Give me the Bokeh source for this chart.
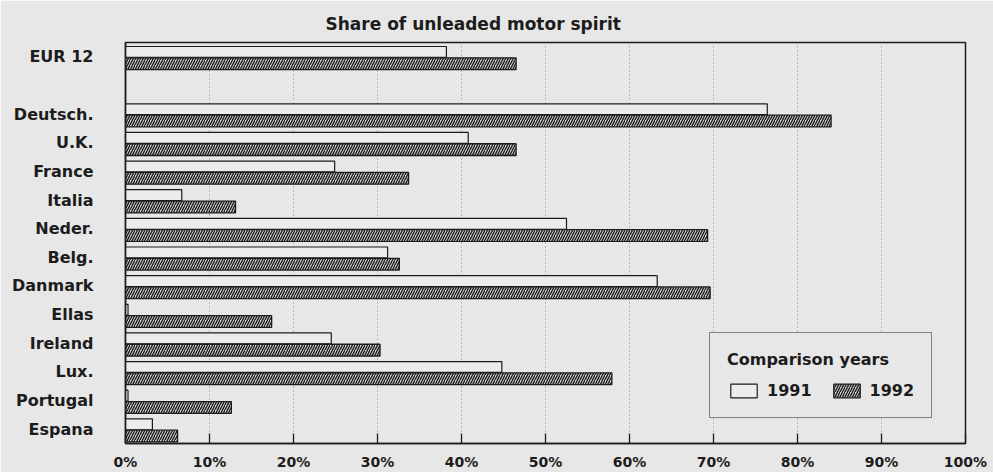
from bokeh.plotting import figure
from bokeh.models import Legend, LegendItem, FactorRange, Range1d, FixedTicker, ColumnDataSource
from bokeh.transform import dodge
from bokeh.embed import file_html
from bokeh.resources import INLINE

countries = ["EUR 12", " ", "Deutsch.", "U.K.", "France", "Italia", "Neder.", "Belg.",
             "Danmark", "Ellas", "Ireland", "Lux.", "Portugal", "Espana"]
share_1991 = [38.2, float("nan"), 76.4, 40.8, 24.9, 6.7, 52.5, 31.2, 63.3, 0.3, 24.5, 44.8, 0.3, 3.2]
share_1992 = [46.5, float("nan"), 84.0, 46.5, 33.7, 13.1, 69.3, 32.6, 69.6, 17.4, 30.3, 57.9, 12.6, 6.2]
x_ticks = [0, 10, 20, 30, 40, 50, 60, 70, 80, 90, 100]
x_tick_labels = ["0%", "10%", "20%", "30%", "40%", "50%", "60%", "70%", "80%", "90%", "100%"]
title_text = "Share of unleaded motor spirit"
legend_title = "Comparison years"
series_names = ["1991", "1992"]

BG = "#e7e7e7"
INK = "#1c1c1c"
FONT = "DejaVu Sans"

src = ColumnDataSource(dict(country=countries, v91=share_1991, v92=share_1992))

p = figure(width=993, height=472,
           y_range=FactorRange(factors=list(reversed(countries))),
           x_range=Range1d(0, 100),
           output_backend="svg", toolbar_location=None,
           min_border_left=125, min_border_right=28, min_border_top=42, min_border_bottom=29,
           background_fill_color=BG, border_fill_color=BG)

r1 = p.hbar(y=dodge("country", 0.17, range=p.y_range), left=0, right="v91", height=0.38,
            source=src, fill_color="#ececec", line_color=INK, line_width=1.2)
r2 = p.hbar(y=dodge("country", -0.24, range=p.y_range), left=0, right="v92", height=0.41,
            source=src, fill_color="#d8d8d8", line_color=INK, line_width=1.3,
            hatch_pattern="/", hatch_color=INK, hatch_scale=5, hatch_weight=1.4)

p.title.text = title_text
p.title.align = "left"
p.title.offset = 200
p.title.standoff = 18
p.title.text_font = FONT
p.title.text_font_size = "17px"
p.title.text_font_style = "bold"
p.title.text_color = INK

p.outline_line_color = INK
p.outline_line_width = 1.5

xa = p.xaxis[0]
xa.ticker = FixedTicker(ticks=x_ticks)
xa.major_label_overrides = {t: l for t, l in zip(x_ticks, x_tick_labels)}
xa.major_tick_in = 10
xa.major_tick_out = 0
xa.minor_tick_in = 0
xa.minor_tick_out = 0
xa.major_tick_line_color = INK
xa.major_tick_line_width = 1.3
xa.axis_line_color = INK
xa.axis_line_width = 1.5
xa.major_label_text_font = FONT
xa.major_label_text_font_style = "bold"
xa.major_label_text_font_size = "14px"
xa.major_label_text_color = INK
xa.major_label_standoff = 10

ya = p.yaxis[0]
ya.major_tick_in = 0
ya.major_tick_out = 0
ya.axis_line_color = INK
ya.axis_line_width = 1.5
ya.major_label_text_font = FONT
ya.major_label_text_font_style = "bold"
ya.major_label_text_font_size = "16px"
ya.major_label_text_color = INK
ya.major_label_standoff = 32

p.ygrid.visible = False
p.xgrid.grid_line_color = "#8a8a8a"
p.xgrid.grid_line_dash = "1 3"
p.xgrid.grid_line_width = 1

legend = Legend(items=[LegendItem(label=series_names[0], renderers=[r1]),
                       LegendItem(label=series_names[1], renderers=[r2])],
                orientation="horizontal", title=legend_title, location=(584, 25))
legend.border_line_color = INK
legend.border_line_width = 1.5
legend.background_fill_color = BG
legend.background_fill_alpha = 1
legend.title_text_font = FONT
legend.title_text_font_style = "bold"
legend.title_text_font_size = "16px"
legend.title_text_color = INK
legend.title_standoff = 12
legend.label_text_font = FONT
legend.label_text_font_style = "bold"
legend.label_text_font_size = "16px"
legend.label_text_color = INK
legend.glyph_width = 33
legend.glyph_height = 17
legend.spacing = 18
legend.padding = 17
legend.label_standoff = 7
legend.margin = 0
p.add_layout(legend, "center")

open("out.html", "w").write(file_html(p, INLINE))
